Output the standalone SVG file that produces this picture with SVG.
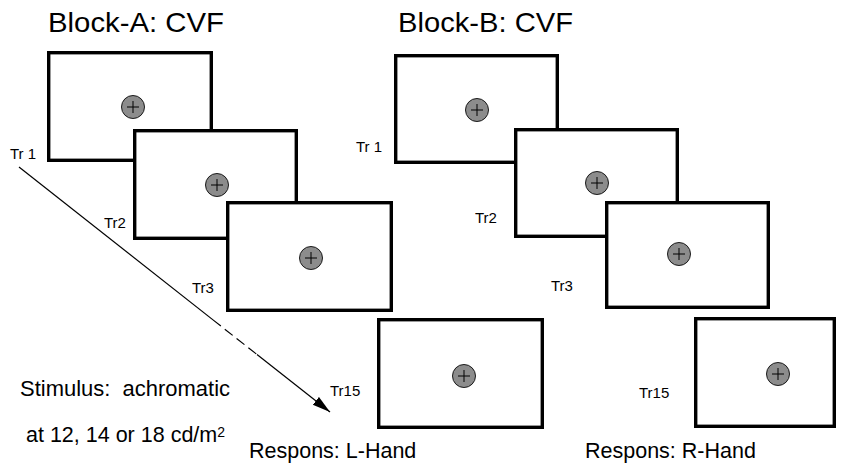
<svg xmlns="http://www.w3.org/2000/svg" width="852" height="465" viewBox="0 0 852 465">
<style>
.scr{fill:#fff;stroke:#000;stroke-width:3.4}
.dot{fill:#8c8c8c;stroke:#1a1a1a;stroke-width:1}
.crs{stroke:#000;stroke-width:1;fill:none}
.ttl{font-family:"Liberation Sans",Arial,sans-serif;font-size:28px;fill:#000}
.tr{font-family:"Liberation Sans",Arial,sans-serif;font-size:15px;fill:#000}
.lbl{font-family:"Liberation Sans",Arial,sans-serif;font-size:21.5px;fill:#000}
.arr{stroke:#000;stroke-width:1.2;fill:none}
</style>
<defs>
<g id="fix">
<circle class="dot" cx="0" cy="0" r="11.5"/>
<path class="crs" d="M-6,0H6M0,-6V6"/>
</g>
<marker id="ah" markerUnits="userSpaceOnUse" markerWidth="20" markerHeight="12" refX="18" refY="5" orient="auto">
<path d="M0,0 L18,5 L0,10 Z" fill="#000"/>
</marker>
</defs>
<rect width="852" height="465" fill="#fff"/>
<g id="titles">
<text class="ttl" x="48" y="32" textLength="176" lengthAdjust="spacingAndGlyphs">Block-A: CVF</text>
<text class="ttl" x="398" y="32" textLength="175" lengthAdjust="spacingAndGlyphs">Block-B: CVF</text>
</g>
<g id="a-tr1"><rect class="scr" x="48.7" y="52.7" width="162.6" height="107.6"/><use href="#fix" x="133" y="107"/><text class="tr" x="10" y="159">Tr 1</text></g>
<g id="a-tr2"><rect class="scr" x="134.7" y="130.7" width="161.6" height="107.6"/><use href="#fix" x="217" y="185"/><text class="tr" x="104" y="228">Tr2</text></g>
<g id="a-tr3"><rect class="scr" x="227.7" y="202.7" width="163.6" height="107.6"/><use href="#fix" x="311" y="258"/><text class="tr" x="192" y="293">Tr3</text></g>
<g id="a-tr15"><rect class="scr" x="378.7" y="319.7" width="163.6" height="107.6"/><use href="#fix" x="464" y="376"/><text class="tr" x="330" y="396">Tr15</text></g>
<g id="b-tr1"><rect class="scr" x="395.7" y="55.7" width="161.6" height="106.6"/><use href="#fix" x="477" y="110"/><text class="tr" x="356" y="152">Tr 1</text></g>
<g id="b-tr2"><rect class="scr" x="515.7" y="129.7" width="161.6" height="106.6"/><use href="#fix" x="597" y="183"/><text class="tr" x="475" y="223">Tr2</text></g>
<g id="b-tr3"><rect class="scr" x="606.7" y="202.7" width="161.6" height="104.6"/><use href="#fix" x="679" y="254"/><text class="tr" x="551" y="291">Tr3</text></g>
<g id="b-tr15"><rect class="scr" x="695.7" y="318.7" width="138.6" height="107.6"/><use href="#fix" x="778" y="374"/><text class="tr" x="639" y="398">Tr15</text></g>
<g id="connectors">
<path class="arr" d="M19,167 L213,319.9"/>
<path class="arr" d="M213,319.9 L257,354.5" stroke-dasharray="10,5"/>
<path class="arr" d="M257,354.5 L330,412" marker-end="url(#ah)"/>
</g>
<g id="notes">
<text class="lbl" x="20" y="396" xml:space="preserve" textLength="210" lengthAdjust="spacingAndGlyphs">Stimulus:  achromatic</text>
<text class="lbl" x="26" y="442">at 12, 14 or 18 cd/m<tspan font-size="14" dy="-5">2</tspan></text>
<text class="lbl" x="249" y="458">Respons: L-Hand</text>
<text class="lbl" x="585" y="458">Respons: R-Hand</text>
</g>
</svg>
